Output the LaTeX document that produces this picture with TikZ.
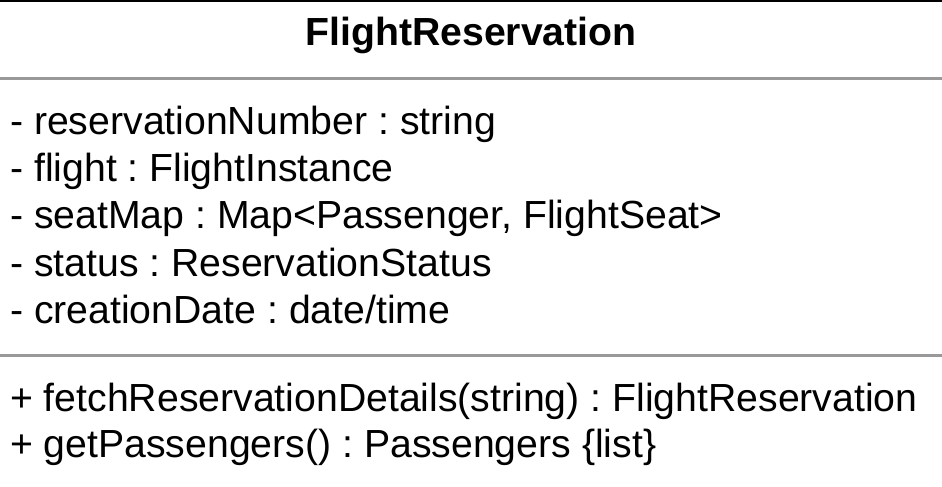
\documentclass[tikz,border=0pt]{standalone}
\usepackage{fontspec}
\setmainfont{Liberation Sans}
\begin{document}
\frenchspacing
\begin{tikzpicture}[x=1pt,y=1pt,
  member/.style={anchor=base west,inner sep=0pt,font=\fontsize{39.2}{39.2}\selectfont},
  title/.style={anchor=base,inner sep=0pt,font=\fontsize{39.2}{39.2}\selectfont\bfseries},
  divider/.style={draw=black!40,line width=3pt}]
  \useasboundingbox (0,0) rectangle (942,-487);
  \fill[white] (0,0) rectangle (942,-487);
  % class box outline (top edge only is visible)
  \draw[line width=2pt] (0,-1) -- (942,-1);
  \node[title] (name) at (471,-46) {FlightReservation};
  \draw[divider] (0,-78) -- (942,-78);
  % attributes
  \node[member] (a1) at (10,-134) {- reservationNumber : string};
  \node[member] (a2) at (10,-181) {- flight : FlightInstance};
  \node[member] (a3) at (10,-228) {- seatMap : Map<Passenger, FlightSeat>};
  \node[member] (a4) at (10,-276) {- status : ReservationStatus};
  \node[member] (a5) at (10,-323) {- creationDate : date/time};
  \draw[divider] (0,-355) -- (942,-355);
  % operations
  \node[member] (o1) at (10,-411) {+ fetchReservationDetails(string) : FlightReservation};
  \node[member] (o2) at (10,-457) {+ getPassengers() : Passengers \{list\}};
\end{tikzpicture}
\end{document}
